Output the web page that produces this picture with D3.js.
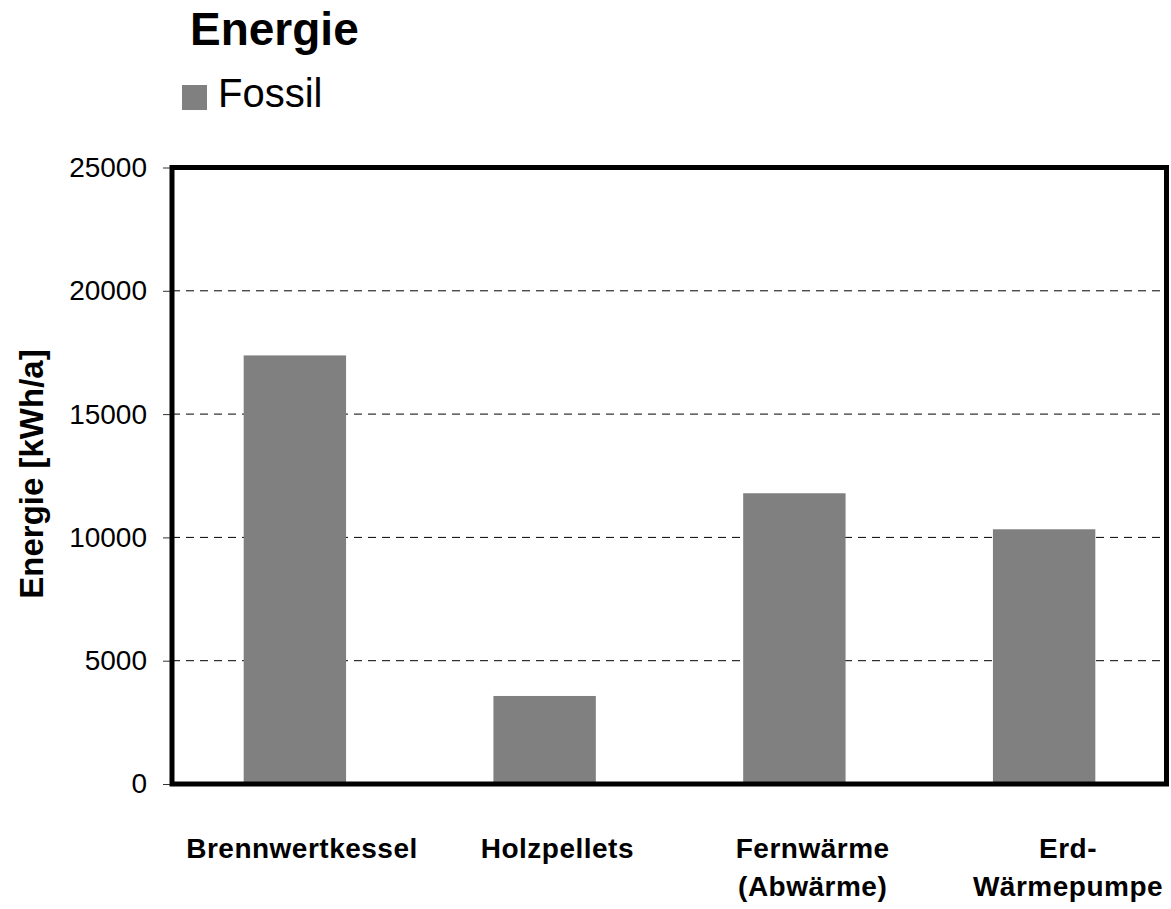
<!DOCTYPE html>
<html>
<head>
<meta charset="utf-8">
<script src="https://cdn.jsdelivr.net/npm/d3@7"></script>
<style>
  html, body { margin: 0; padding: 0; background: #fff; }
  svg { display: block; }
</style>
</head>
<body>
<svg id="chart" width="1171" height="909"></svg>
<script>
const categories = ["Brennwertkessel", "Holzpellets", "Fernwärme (Abwärme)", "Erd- Wärmepumpe"];
const categoryLines = [["Brennwertkessel"], ["Holzpellets"], ["Fernwärme", "(Abwärme)"], ["Erd-", "Wärmepumpe"]];
const fossilValues = [17380, 3570, 11790, 10330];
const yTicks = [0, 5000, 10000, 15000, 20000, 25000];
const seriesName = "Fossil";
const titleText = "Energie";
const yAxisTitle = "Energie [kWh/a]";

const svg = d3.select("#chart");
const font = "'Liberation Sans', Arial, sans-serif";
const barColor = "#808080";

const plot = { left: 172, right: 1166.5, top: 167.5, bottom: 784 };

const y = d3.scaleLinear().domain([0, 25000]).range([plot.bottom, plot.top]);
const x = d3.scaleBand().domain(categories).range([170, 1169]).paddingInner(0.59).paddingOuter(0.295);
const xLabel = d3.scalePoint().domain(categories).range([302, 1068]);

// Title
svg.append("text").attr("x", 190).attr("y", 45)
  .attr("font-family", font).attr("font-weight", "bold").attr("font-size", 46)
  .attr("fill", "#000").text(titleText);

// Legend
svg.append("rect").attr("x", 182).attr("y", 85).attr("width", 25).attr("height", 25).attr("fill", barColor);
svg.append("text").attr("x", 218).attr("y", 107)
  .attr("font-family", font).attr("font-size", 40).attr("fill", "#000").text(seriesName);

// Gridlines
svg.append("g").selectAll("line").data(yTicks.filter(d => d > 0 && d < 25000)).join("line")
  .attr("x1", plot.left).attr("x2", plot.right)
  .attr("y1", d => y(d)).attr("y2", d => y(d))
  .attr("stroke", "#000").attr("stroke-width", 1).attr("stroke-dasharray", "8,6");

// Bars
svg.append("g").selectAll("rect").data(categories).join("rect")
  .attr("x", d => x(d)).attr("width", x.bandwidth())
  .attr("y", (d, i) => y(fossilValues[i]))
  .attr("height", (d, i) => y(0) - y(fossilValues[i]))
  .attr("fill", barColor);

// Y axis
const yAxis = d3.axisLeft(y).tickValues(yTicks).tickSize(7).tickPadding(16).tickFormat(d3.format("d"));
const gy = svg.append("g").attr("transform", "translate(170,0)").call(yAxis);
gy.select(".domain").remove();
gy.selectAll(".tick line").attr("stroke", "#333").attr("stroke-width", 1);
gy.selectAll(".tick text").attr("font-family", font).attr("font-size", 28).attr("fill", "#000");

// Frame
svg.append("rect")
  .attr("x", plot.left).attr("y", plot.top)
  .attr("width", plot.right - plot.left).attr("height", plot.bottom - plot.top)
  .attr("fill", "none").attr("stroke", "#000").attr("stroke-width", 5);

// X labels
const xl = svg.append("g").selectAll("text").data(categories).join("text")
  .attr("text-anchor", "middle")
  .attr("font-family", font).attr("font-weight", "bold").attr("font-size", 28)
  .attr("letter-spacing", "0.5px").attr("fill", "#000");
xl.each(function(d, i) {
  const t = d3.select(this);
  categoryLines[i].forEach((line, j) => {
    t.append("tspan").attr("x", xLabel(d)).attr("y", 858 + j * 38).text(line);
  });
});

// Y axis title
svg.append("text")
  .attr("transform", "translate(43,474) rotate(-90)")
  .attr("text-anchor", "middle")
  .attr("font-family", font).attr("font-weight", "bold").attr("font-size", 33)
  .attr("fill", "#000").text(yAxisTitle);
</script>
</body>
</html>
